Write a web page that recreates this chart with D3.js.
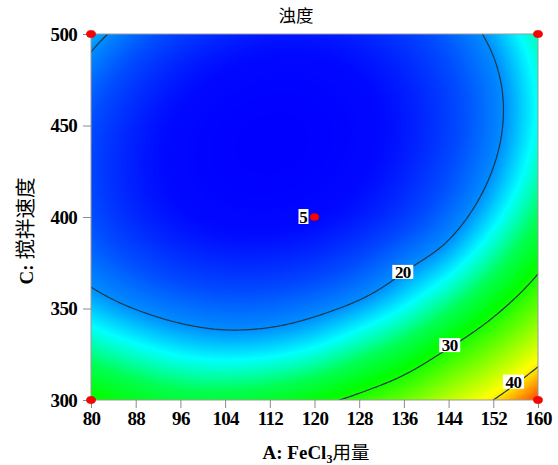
<!DOCTYPE html>
<html><head><meta charset="utf-8">
<script src="https://cdn.jsdelivr.net/npm/d3@7"></script>
<style>
html,body{margin:0;padding:0;background:#fff;}
svg{display:block;}
</style></head>
<body>
<svg id="chart" width="558" height="465"></svg>
<script>
// ---------- data ----------
const A_levels = [80, 88, 96, 104, 112, 120, 128, 136, 144, 152, 160];      // A: FeCl3 用量
const C_levels = [300, 325, 350, 375, 400, 425, 450, 475, 500];             // C: 搅拌速度
// 浊度 response surface read at the grid (rows = C_levels, cols = A_levels)
const turbidity = [
  [29.84, 28.18, 27.22, 27.10, 27.70, 29.00, 30.90, 33.30, 36.60, 40.00, 44.60],
  [25.09, 23.63, 22.53, 22.12, 22.40, 23.38, 25.25, 27.50, 30.70, 34.20, 38.40],
  [21.38, 19.93, 18.88, 18.32, 18.46, 19.30, 20.73, 22.80, 25.60, 29.10, 33.20],
  [18.72, 17.00, 15.60, 14.90, 14.90, 15.60, 17.10, 19.30, 21.60, 25.00, 29.09],
  [17.11, 14.87, 13.32, 12.47, 12.32, 12.86, 14.10, 16.03, 18.66, 21.99, 26.01],
  [16.55, 14.16, 12.47, 11.47, 11.17, 11.56, 12.66, 14.44, 16.93, 20.11, 23.98],
  [17.03, 14.50, 12.66, 11.51, 11.07, 11.32, 12.26, 13.90, 16.24, 19.27, 23.00],
  [18.56, 15.88, 13.89, 12.61, 12.01, 12.11, 12.91, 14.41, 16.60, 19.48, 23.07],
  [21.14, 18.31, 16.18, 14.74, 14.00, 13.96, 14.61, 15.96, 18.00, 20.74, 24.18]
];
const contourLevels = [20, 30, 40];
const contourLabels = [
  {level: 20, A: 135.8, C: 370},
  {level: 30, A: 144.2, C: 330},
  {level: 40, A: 155.6, C: 310}
];
const designPoints = [
  {A: 80, C: 300, n: 1}, {A: 160, C: 300, n: 1},
  {A: 80, C: 500, n: 1}, {A: 160, C: 500, n: 1},
  {A: 120, C: 400, n: 5}
];
const xTicks = [80, 88, 96, 104, 112, 120, 128, 136, 144, 152, 160];
const yTicks = [300, 350, 400, 450, 500];
const colorValues = [11, 13, 17, 20, 22.5, 26, 30, 35, 40, 45];
const colorHues   = [240, 238, 222, 207, 182, 140, 115, 85, 55, 12];

// ---------- layout ----------
const svg = d3.select("#chart");
const x = d3.scaleLinear().domain([80, 160]).range([91, 538]);
const y = d3.scaleLinear().domain([300, 500]).range([400, 34]);
const serif = "'Liberation Serif','Times New Roman',serif";
const cjk = "'Noto Sans CJK SC','Noto Sans CJK JP',sans-serif";

// ---------- smooth surface through grid (Catmull-Rom) ----------
const nA = A_levels.length, nC = C_levels.length;
const E = [];
for (let j = 0; j < nC; j++) {
  const r = turbidity[j];
  E.push([3*r[0]-3*r[1]+r[2], ...r, 3*r[nA-1]-3*r[nA-2]+r[nA-3]]);
}
const ext = (a, b, c) => a.map((v, k) => 3*v - 3*b[k] + c[k]);
E.unshift(ext(E[0], E[1], E[2]));
E.push(ext(E[E.length-1], E[E.length-2], E[E.length-3]));
function cr(p0, p1, p2, p3, t) {
  return 0.5*(2*p1 + (-p0+p2)*t + (2*p0-5*p1+4*p2-p3)*t*t + (-p0+3*p1-3*p2+p3)*t*t*t);
}
function surf(A, C) {
  const fx = (A - A_levels[0]) / (A_levels[1] - A_levels[0]);
  const fy = (C - C_levels[0]) / (C_levels[1] - C_levels[0]);
  const i = Math.max(0, Math.min(nA - 2, Math.floor(fx))), tx = fx - i;
  const j = Math.max(0, Math.min(nC - 2, Math.floor(fy))), ty = fy - j;
  const rows = [];
  for (let jj = j - 1; jj <= j + 2; jj++) {
    const R = E[jj + 1];
    rows.push(cr(R[i], R[i+1], R[i+2], R[i+3], tx));
  }
  return cr(rows[0], rows[1], rows[2], rows[3], ty);
}

const nx = 224, ny = 184, pad = 2;
const W = nx + 2*pad, H = ny + 2*pad;
const gA = g => 80 + (g - pad) / nx * 80;
const gC = g => 500 - (g - pad) / ny * 200;
const values = new Float64Array(W * H);
for (let j = 0; j < H; j++)
  for (let i = 0; i < W; i++)
    values[j*W + i] = surf(gA(i + 0.5), gC(j + 0.5));

const proj = d3.geoTransform({
  point: function(px, py) { this.stream.point(x(gA(px)), y(gC(py))); }
});
const path = d3.geoPath(proj);

const hue = d3.scaleLinear().domain(colorValues).range(colorHues).clamp(true);
const color = v => d3.hsl(hue(v), 1, 0.5).formatHex();

svg.append("defs").append("clipPath").attr("id", "plotclip")
  .append("rect").attr("x", x(80)).attr("y", y(500))
  .attr("width", x(160) - x(80)).attr("height", y(300) - y(500));

const plot = svg.append("g").attr("clip-path", "url(#plotclip)");
plot.append("rect").attr("x", x(80)).attr("y", y(500))
  .attr("width", x(160) - x(80)).attr("height", y(300) - y(500))
  .attr("fill", color(11));

const step = 0.2;
const fillThresholds = d3.range(10.6, 46, step);
const bands = d3.contours().size([W, H]).thresholds(fillThresholds)(values);
plot.append("g").selectAll("path").data(bands).join("path")
  .attr("d", path)
  .attr("fill", d => color(d.value + step/2))
  .attr("stroke", d => color(d.value + step/2))
  .attr("stroke-width", 0.6);

const lines = d3.contours().size([W, H]).thresholds(contourLevels)(values);
plot.append("g").selectAll("path").data(lines).join("path")
  .attr("d", path)
  .attr("fill", "none")
  .attr("stroke", "#1a3a48")
  .attr("stroke-width", 1.2)
  .attr("stroke-linejoin", "round");

// frame
svg.append("rect").attr("x", x(80)).attr("y", y(500))
  .attr("width", x(160) - x(80)).attr("height", y(300) - y(500))
  .attr("fill", "none").attr("stroke", "#9a9a9a").attr("stroke-width", 1);

// contour labels
const lab = svg.append("g").selectAll("g").data(contourLabels).join("g")
  .attr("transform", d => `translate(${x(d.A)},${y(d.C)})`);
lab.append("rect").attr("x", -10.5).attr("y", -7).attr("width", 21).attr("height", 14).attr("fill", "#fff");
lab.append("text").attr("text-anchor", "middle").attr("dy", "0.35em")
  .attr("font-family", serif).attr("font-weight", "bold").attr("font-size", 17)
  .attr("letter-spacing", "-0.6px")
  .text(d => d.level);

// axes
const xAxis = svg.append("g").attr("transform", `translate(0,${y(300)})`)
  .call(d3.axisBottom(x).tickValues(xTicks).tickSize(8).tickPadding(4).tickSizeOuter(0));
const yAxis = svg.append("g").attr("transform", `translate(${x(80)},0)`)
  .call(d3.axisLeft(y).tickValues(yTicks).tickSize(8).tickPadding(6).tickSizeOuter(0));
[xAxis, yAxis].forEach(a => {
  a.select(".domain").remove();
  a.selectAll(".tick line").attr("stroke", "#8a8a8a");
  a.selectAll(".tick text").attr("font-family", serif).attr("font-weight", "bold")
    .attr("font-size", 19).attr("fill", "#000").attr("letter-spacing", "-0.7px");
});

// design points
const dp = svg.append("g").selectAll("g").data(designPoints).join("g")
  .attr("transform", d => `translate(${x(d.A)},${y(d.C)})`);
dp.filter(d => d.n > 1).append("rect")
  .attr("x", -16).attr("y", -8).attr("width", 10).attr("height", 15).attr("fill", "#fff");
dp.filter(d => d.n > 1).append("text")
  .attr("x", -11).attr("text-anchor", "middle").attr("dy", "0.35em")
  .attr("font-family", serif).attr("font-weight", "bold").attr("font-size", 17)
  .text(d => d.n);
dp.append("ellipse").attr("rx", 4.5).attr("ry", 3.6)
  .attr("fill", "#ff0000").attr("stroke", "#d00000").attr("stroke-width", 0.6);

// titles
svg.append("text").attr("x", 296).attr("y", 22).attr("text-anchor", "middle")
  .attr("font-family", cjk).attr("font-size", 17.5).attr("fill", "#000").text("浊度");

const xt = svg.append("text").attr("x", 316).attr("y", 459).attr("text-anchor", "middle").attr("fill", "#000");
xt.append("tspan").attr("font-family", serif).attr("font-weight", "bold").attr("font-size", 19).text("A: FeCl");
xt.append("tspan").attr("font-family", serif).attr("font-weight", "bold").attr("font-size", 12).attr("dy", 4).text("3");
xt.append("tspan").attr("font-family", cjk).attr("font-size", 18.5).attr("dy", -4).text("用量");

const yt = svg.append("text").attr("transform", "translate(33,231) rotate(-90)")
  .attr("text-anchor", "middle").attr("fill", "#000");
yt.append("tspan").attr("font-family", serif).attr("font-weight", "bold").attr("font-size", 19).text("C: ");
yt.append("tspan").attr("font-family", cjk).attr("font-size", 20.5).text("搅拌速度");
</script>
</body></html>
